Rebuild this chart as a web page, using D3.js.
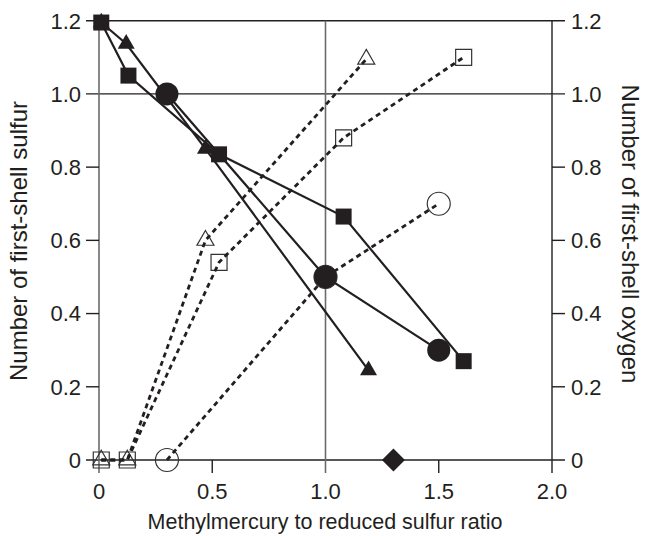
<!DOCTYPE html>
<html>
<head>
<meta charset="utf-8">
<script src="https://cdn.jsdelivr.net/npm/d3@7"></script>
<style>
  html, body { margin: 0; padding: 0; background: #fff; }
  svg { display: block; }
  text { font-family: "Liberation Sans", Arial, Helvetica, sans-serif; fill: #231f20; }
</style>
</head>
<body>
<svg id="chart" width="648" height="536"></svg>
<script>
// Methylmercury : reduced sulfur ratio vs. first-shell coordination numbers
const ratioTicks = [0, 0.5, 1.0, 1.5, 2.0];
const ratioTickLabels = ["0", "0.5", "1.0", "1.5", "2.0"];
const countTicks = [0, 0.2, 0.4, 0.6, 0.8, 1.0, 1.2];
const countTickLabels = ["0", "0.2", "0.4", "0.6", "0.8", "1.0", "1.2"];

// First-shell sulfur (left axis, filled symbols)
const sulfurTriangleX = [0.01, 0.12, 0.47, 1.19];
const sulfurTriangleY = [1.195, 1.137, 0.85, 0.245];
const sulfurSquareX = [0.01, 0.13, 0.53, 1.08, 1.61];
const sulfurSquareY = [1.195, 1.05, 0.835, 0.665, 0.27];
const sulfurCircleX = [0.3, 1.0, 1.5];
const sulfurCircleY = [1.0, 0.5, 0.3];

// First-shell oxygen (right axis, open symbols)
const oxygenTriangleX = [0.01, 0.125, 0.47, 1.18];
const oxygenTriangleY = [0, 0, 0.6, 1.095];
const oxygenSquareX = [0.01, 0.125, 0.53, 1.08, 1.61];
const oxygenSquareY = [0, 0, 0.54, 0.88, 1.1];
const oxygenCircleX = [0.3, 1.0, 1.5];
const oxygenCircleY = [0, 0.5, 0.7];

// Single reference point
const diamondX = [1.3];
const diamondY = [0];

const INK = "#231f20";
const GREY = "#6b6b6b";
const svg = d3.select("#chart");
const plotLeft = 99, plotRight = 552, plotTop = 20.7, plotBottom = 460;
const tickLen = 13;

const x = d3.scaleLinear().domain([0, 2]).range([plotLeft, plotRight]);
const ySulfur = d3.scaleLinear().domain([0, 1.2]).range([plotBottom, plotTop]);
const yOxygen = d3.scaleLinear().domain([0, 1.2]).range([plotBottom, plotTop]);

const zip = (xs, ys) => xs.map((v, i) => [v, ys[i]]);

// Frame and reference lines
const frame = svg.append("g");
// horizontal lines at 0, 1.0, 1.2 span across both tick columns
[0, 1.0, 1.2].forEach(v => {
  frame.append("line")
    .attr("x1", plotLeft - tickLen).attr("x2", plotRight + tickLen)
    .attr("y1", ySulfur(v)).attr("y2", ySulfur(v))
    .attr("stroke", INK).attr("stroke-width", 1.4);
});
// vertical lines at 0, 1.0, 2.0 reaching down past the baseline
[0, 1.0, 2.0].forEach(v => {
  frame.append("line")
    .attr("x1", x(v)).attr("x2", x(v))
    .attr("y1", plotTop).attr("y2", plotBottom + tickLen)
    .attr("stroke", v === 2.0 ? INK : GREY).attr("stroke-width", v === 2.0 ? 1.4 : 1.6);
});
// remaining ticks
[0.5, 1.5].forEach(v => {
  frame.append("line")
    .attr("x1", x(v)).attr("x2", x(v))
    .attr("y1", plotBottom).attr("y2", plotBottom + tickLen)
    .attr("stroke", INK).attr("stroke-width", 1.4);
});
[0.2, 0.4, 0.6, 0.8].forEach(v => {
  frame.append("line")
    .attr("x1", plotLeft - tickLen).attr("x2", plotLeft)
    .attr("y1", ySulfur(v)).attr("y2", ySulfur(v))
    .attr("stroke", INK).attr("stroke-width", 1.4);
  frame.append("line")
    .attr("x1", plotRight).attr("x2", plotRight + tickLen)
    .attr("y1", yOxygen(v)).attr("y2", yOxygen(v))
    .attr("stroke", INK).attr("stroke-width", 1.4);
});

// Tick labels
const labels = svg.append("g").attr("font-size", 22);
countTicks.forEach((v, i) => {
  labels.append("text").attr("x", plotLeft - tickLen - 5).attr("y", ySulfur(v))
    .attr("dy", "0.36em").attr("text-anchor", "end").text(countTickLabels[i]);
  labels.append("text").attr("x", plotRight + tickLen + 6).attr("y", yOxygen(v))
    .attr("dy", "0.36em").attr("text-anchor", "start").text(countTickLabels[i]);
});
ratioTicks.forEach((v, i) => {
  labels.append("text").attr("x", x(v)).attr("y", plotBottom + 39)
    .attr("text-anchor", "middle").text(ratioTickLabels[i]);
});

// Axis titles
svg.append("text").attr("x", 325).attr("y", 529)
  .attr("text-anchor", "middle").attr("font-size", 21.5)
  .text("Methylmercury to reduced sulfur ratio");
svg.append("text").attr("transform", `translate(19,241) rotate(-90)`)
  .attr("text-anchor", "middle").attr("font-size", 24).attr("dy", "0.35em")
  .text("Number of first-shell sulfur");
svg.append("text").attr("transform", `translate(630,234) rotate(90)`)
  .attr("text-anchor", "middle").attr("font-size", 24)
  .attr("dy", "0.35em")
  .text("Number of first-shell oxygen");

const sym = (type, size) => d3.symbol().type(type).size(size)();
const triSize = 125, sqSize = 256, circSize = Math.PI * 11.5 * 11.5;

// Oxygen: open symbols, then dashed connectors
const oxygen = [
  { xs: oxygenTriangleX, ys: oxygenTriangleY, type: d3.symbolTriangle, size: triSize },
  { xs: oxygenSquareX, ys: oxygenSquareY, type: d3.symbolSquare, size: sqSize },
  { xs: oxygenCircleX, ys: oxygenCircleY, type: d3.symbolCircle, size: circSize }
];
const oxLine = d3.line().x(d => x(d[0])).y(d => yOxygen(d[1]));
oxygen.forEach(s => {
  svg.append("g").selectAll("path").data(zip(s.xs, s.ys)).join("path")
    .attr("d", sym(s.type, s.size))
    .attr("transform", d => `translate(${x(d[0])},${yOxygen(d[1])})`)
    .attr("fill", "none").attr("stroke", "#333").attr("stroke-width", 1.2);
});
oxygen.forEach(s => {
  svg.append("path").datum(zip(s.xs, s.ys))
    .attr("d", oxLine).attr("fill", "none")
    .attr("stroke", INK).attr("stroke-width", 2.8).attr("stroke-dasharray", "5,4");
});

// Sulfur: solid connectors, then filled symbols
const sulfur = [
  { xs: sulfurTriangleX, ys: sulfurTriangleY, type: d3.symbolTriangle, size: triSize },
  { xs: sulfurCircleX, ys: sulfurCircleY, type: d3.symbolCircle, size: circSize },
  { xs: sulfurSquareX, ys: sulfurSquareY, type: d3.symbolSquare, size: sqSize }
];
const sLine = d3.line().x(d => x(d[0])).y(d => ySulfur(d[1]));
sulfur.forEach(s => {
  svg.append("path").datum(zip(s.xs, s.ys))
    .attr("d", sLine).attr("fill", "none")
    .attr("stroke", INK).attr("stroke-width", 2.2);
});
sulfur.forEach(s => {
  svg.append("g").selectAll("path").data(zip(s.xs, s.ys)).join("path")
    .attr("d", sym(s.type, s.size))
    .attr("transform", d => `translate(${x(d[0])},${ySulfur(d[1])})`)
    .attr("fill", INK);
});

// Diamond marker
svg.append("g").selectAll("path").data(zip(diamondX, diamondY)).join("path")
  .attr("d", sym(d3.symbolSquare, 265))
  .attr("transform", d => `translate(${x(d[0])},${ySulfur(d[1])}) rotate(45)`)
  .attr("fill", INK);
</script>
</body>
</html>
